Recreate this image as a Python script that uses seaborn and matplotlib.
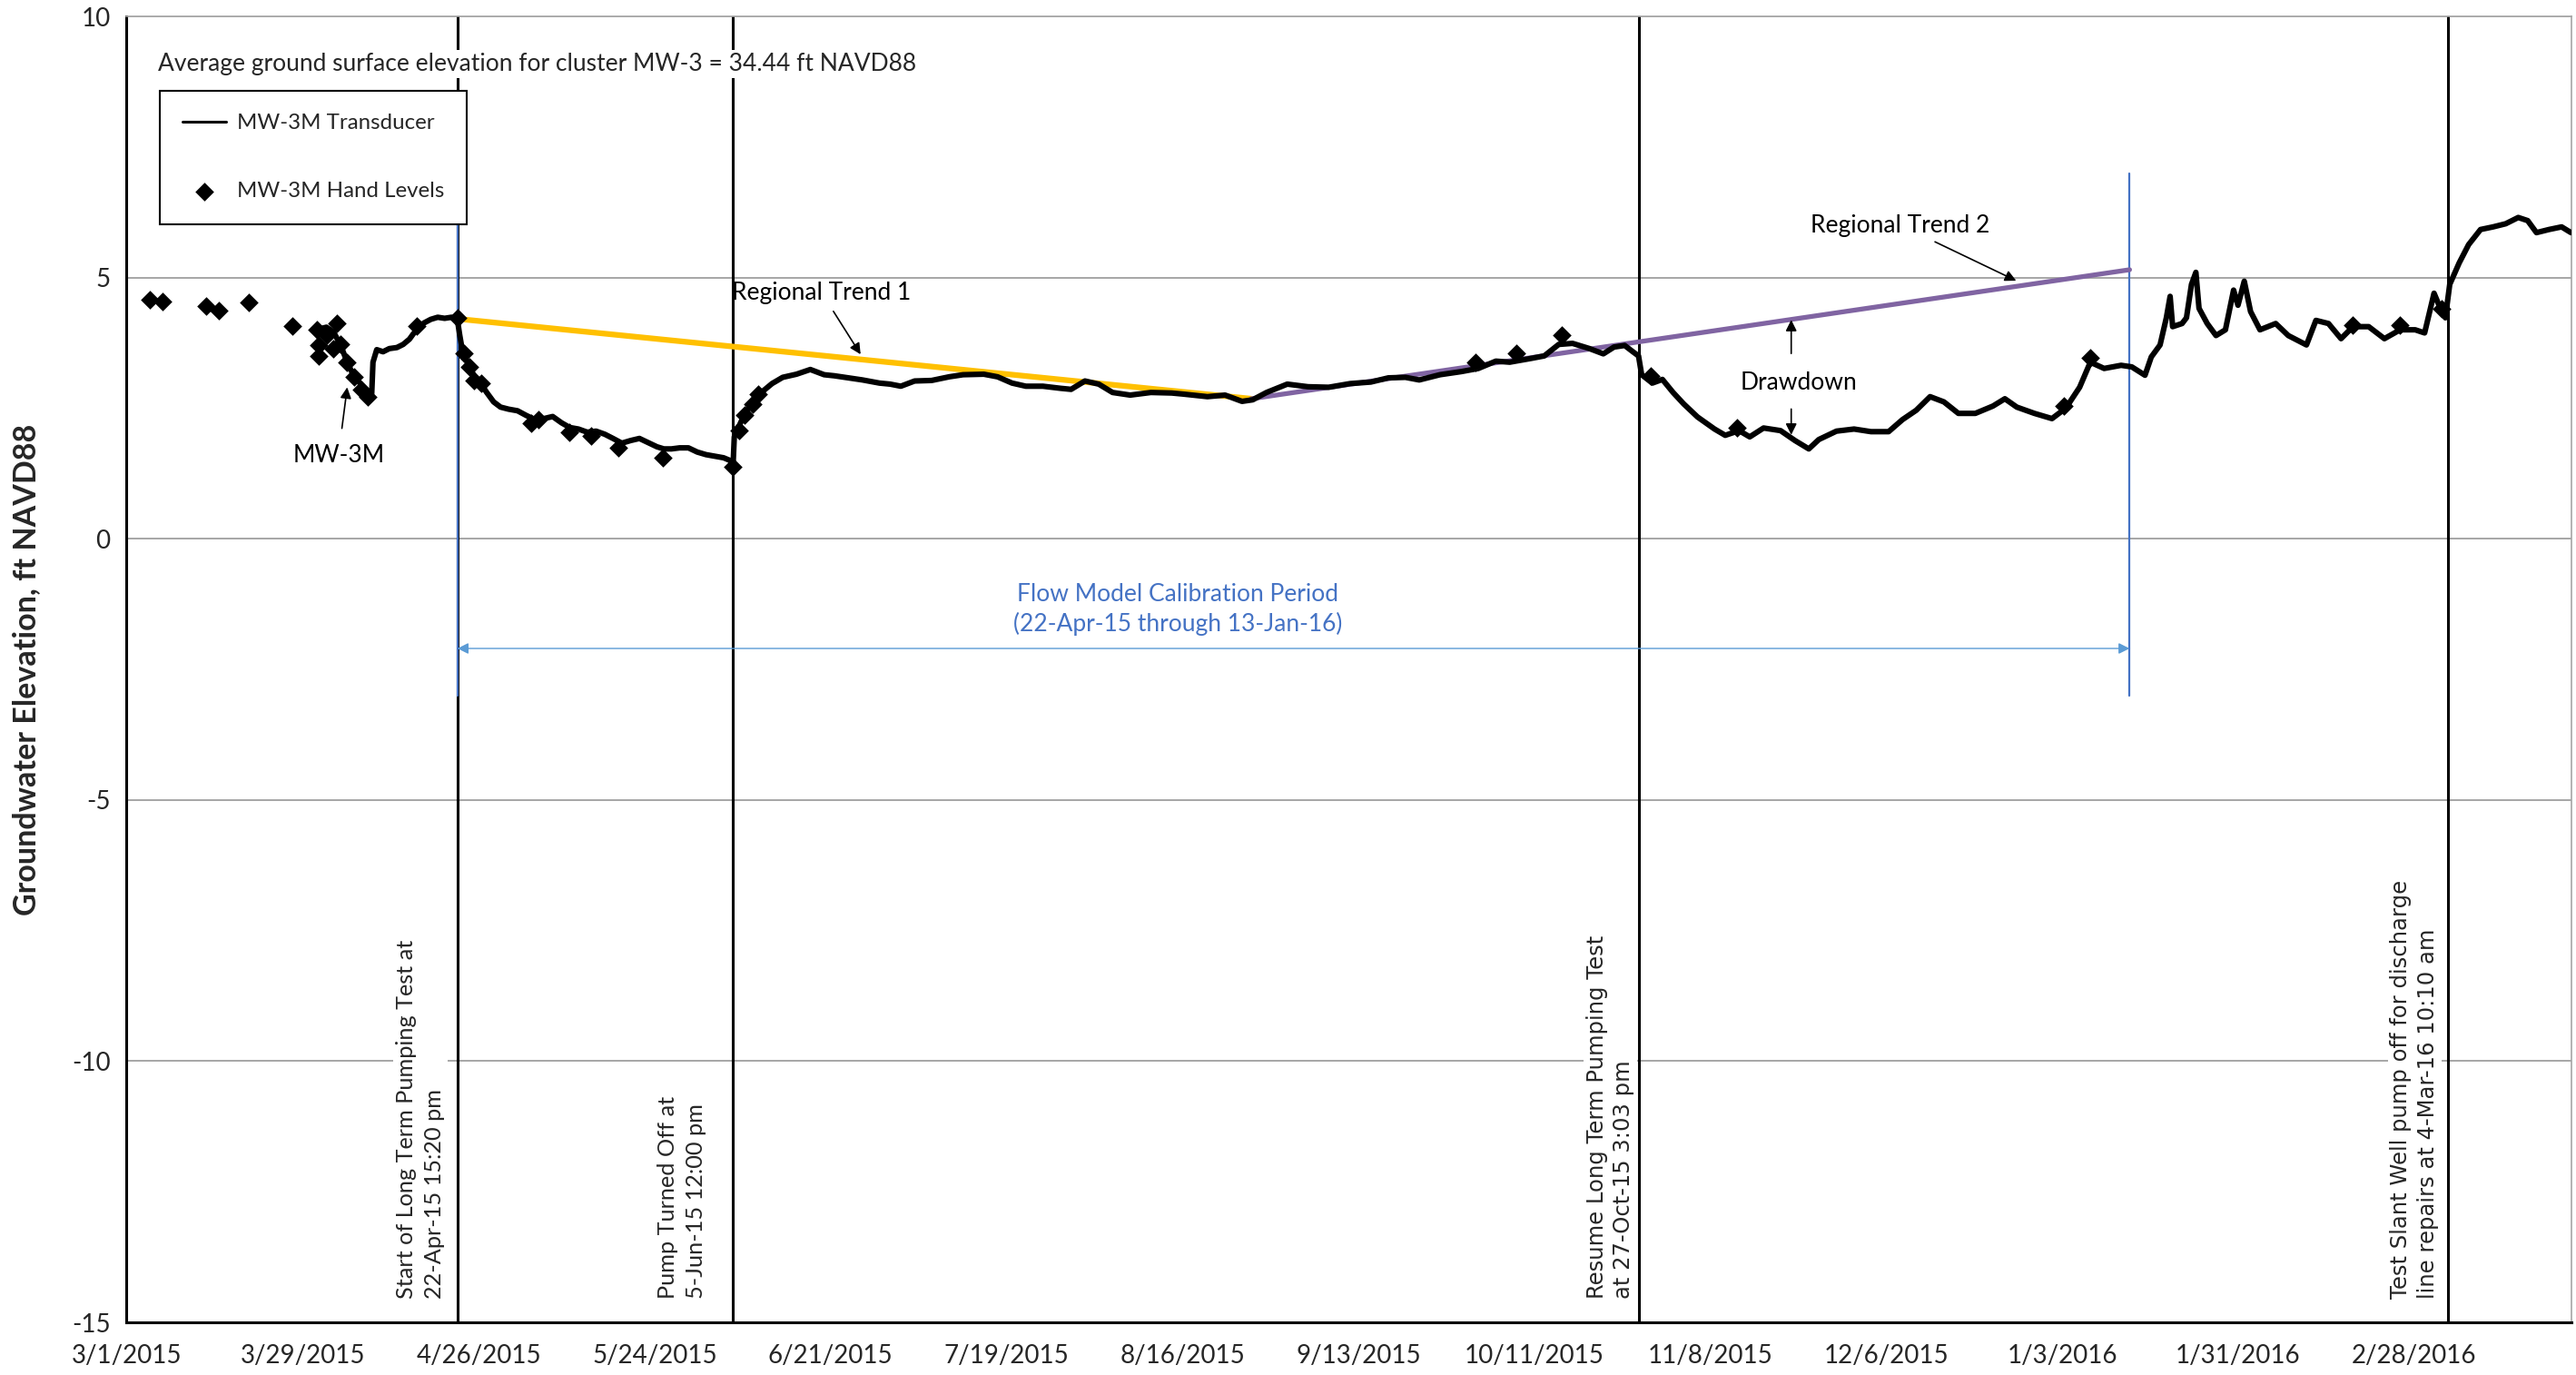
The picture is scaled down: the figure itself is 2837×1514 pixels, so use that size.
import pandas as pd
import numpy as np
import matplotlib
matplotlib.use('Agg')
import matplotlib.pyplot as plt
import matplotlib.dates as mdates
from matplotlib.ticker import FixedLocator, MultipleLocator, FuncFormatter
import seaborn as sns

# days after 3/1/2015 and groundwater elevation (ft NAVD88)
trans_days = [30.8, 31.8, 32.9, 34.0, 35.1, 36.0, 36.8, 37.6, 38.5, 39.0, 39.2, 39.8, 40.8, 41.8,
              43.0, 44.0, 45.0, 45.6, 46.5, 47.3, 48.4, 49.5, 50.6, 51.7, 52.6, 53.0, 53.4, 54.5,
              55.3, 56.2, 57.3, 58.4, 59.5, 60.8, 62.2, 63.6, 65.0, 66.4, 67.8, 69.2, 70.5, 71.9,
              73.3, 74.7, 76.1, 77.4, 78.8, 80.2, 81.6, 83.0, 84.4, 85.5, 86.7, 88.0, 89.4, 90.8,
              92.2, 93.6, 95.0, 96.0, 96.5, 96.7, 97.7, 98.5, 99.4, 100.2, 101.0, 102.7, 104.4,
              106.6, 108.8, 111.0, 112.6, 114.3, 117.1, 119.8, 121.5, 123.2, 125.4, 128.1, 130.9,
              133.1, 136.4, 138.6, 140.9, 143.1, 145.8, 148.6, 150.3, 152.5, 154.7, 156.9, 159.7,
              163.0, 166.3, 168.1, 172.0, 174.8, 177.5, 179.2, 181.4, 184.7, 188.0, 191.3, 194.7,
              198.0, 200.8, 203.5, 205.7, 209.0, 212.4, 215.1, 217.9, 220.1, 223.4, 225.6, 227.9,
              230.1, 232.8, 235.0, 236.7, 238.4, 239.7, 240.6, 241.1, 242.8, 244.4, 246.1, 247.8,
              250.0, 252.7, 254.4, 256.6, 258.3, 260.5, 263.2, 265.5, 267.7, 269.3, 272.1, 274.9,
              277.6, 280.4, 282.6, 284.8, 287.0, 289.2, 291.5, 294.2, 297.0, 298.9, 300.8, 303.6,
              306.4, 308.6, 310.8, 312.5, 314.7, 317.4, 319.1, 321.2, 322.2, 323.6, 324.6, 325.2,
              325.6, 327.1, 327.8, 328.6, 329.3, 329.8, 331.1, 332.5, 334.0, 335.3, 336.0, 337.0,
              338.0, 339.5, 342.0, 344.0, 346.9, 348.4, 350.4, 352.4, 354.3, 356.8, 359.3, 361.8,
              364.2, 365.7, 367.2, 368.2, 369.0, 369.7, 371.2, 372.7, 374.6, 376.6, 378.6, 380.6,
              382.1, 383.5, 385.5, 387.5, 389.0]
trans_vals = [4.02, 4.05, 3.96, 3.72, 3.38, 3.15, 3.03, 2.90, 2.80, 2.78, 3.38, 3.62, 3.58, 3.64,
              3.66, 3.72, 3.82, 3.92, 4.05, 4.13, 4.20, 4.24, 4.22, 4.24, 4.22, 3.90, 3.62, 3.30,
              3.12, 3.00, 2.80, 2.62, 2.52, 2.48, 2.45, 2.36, 2.28, 2.30, 2.34, 2.22, 2.13, 2.10,
              2.04, 2.06, 2.00, 1.92, 1.83, 1.88, 1.92, 1.84, 1.76, 1.72, 1.72, 1.74, 1.74, 1.66,
              1.61, 1.58, 1.55, 1.50, 1.40, 1.95, 2.22, 2.42, 2.57, 2.70, 2.80, 2.97, 3.09,
              3.15, 3.24, 3.14, 3.12, 3.09, 3.04, 2.98, 2.96, 2.92, 3.02, 3.03, 3.10,
              3.14, 3.15, 3.10, 2.98, 2.92, 2.92, 2.88, 2.86, 3.02, 2.96, 2.80, 2.75,
              2.80, 2.79, 2.77, 2.72, 2.75, 2.63, 2.66, 2.80, 2.96, 2.91, 2.90, 2.97,
              3.00, 3.08, 3.09, 3.04, 3.14, 3.20, 3.26, 3.40, 3.38, 3.45, 3.50, 3.72,
              3.74, 3.64, 3.54, 3.67, 3.70, 3.58, 3.50, 3.14, 2.98, 3.05, 2.80, 2.58,
              2.33, 2.10, 1.98, 2.07, 1.95, 2.12, 2.07, 1.88, 1.72, 1.90, 2.06, 2.10,
              2.05, 2.05, 2.28, 2.46, 2.72, 2.62, 2.40, 2.40, 2.54, 2.68, 2.52, 2.40,
              2.30, 2.50, 2.90, 3.38, 3.26, 3.32, 3.29, 3.13, 3.48, 3.71, 4.23, 4.64,
              4.06, 4.12, 4.23, 4.87, 5.10, 4.41, 4.12, 3.89, 4.00, 4.76, 4.47, 4.93,
              4.35, 4.00, 4.12, 3.89, 3.71, 4.18, 4.12, 3.83, 4.06, 4.06, 3.83, 4.00,
              4.00, 3.94, 4.70, 4.41, 4.23, 4.87, 5.28, 5.63, 5.92, 5.97, 6.03, 6.15,
              6.09, 5.86, 5.92, 5.97, 5.86]

hand_days = [3.7, 5.7, 12.7, 14.7, 19.5, 26.4, 30.3, 30.5, 30.6, 31.8, 32.9, 33.5, 34.0, 35.1,
             36.2, 37.3, 38.3, 46.2, 52.6, 53.7, 54.5, 55.3, 56.4, 64.4, 65.5, 70.5, 73.9, 78.3,
             85.3, 96.5, 97.4, 98.3, 99.7, 100.5, 214.6, 221.2, 228.4, 242.5, 256.3, 308.3,
             312.5, 354.3, 361.8, 368.4]
hand_vals = [4.57, 4.54, 4.45, 4.37, 4.52, 4.07, 4.00, 3.71, 3.50, 3.90, 3.64, 4.13, 3.72, 3.38,
             3.09, 2.86, 2.71, 4.07, 4.22, 3.55, 3.29, 3.03, 2.97, 2.22, 2.28, 2.04, 1.96, 1.75,
             1.55, 1.38, 2.07, 2.36, 2.57, 2.77, 3.38, 3.55, 3.90, 3.12, 2.13, 2.54,
             3.46, 4.09, 4.09, 4.41]

trend1_dates = ['2015-04-22 15:20', '2015-08-27 00:00']
trend1_vals = [4.21, 2.68]
trend2_dates = ['2015-08-27 00:00', '2016-01-13 18:00']
trend2_vals = [2.68, 5.15]

events = ['2015-04-22 15:20', '2015-06-05 12:00', '2015-10-27 15:03', '2016-03-04 10:10']
calib = ['2015-04-22 15:20', '2016-01-13 18:00']

base = pd.Timestamp('2015-03-01')
x_end = base + pd.Timedelta(days=389)


def dnum(d):
    return mdates.date2num(base + pd.Timedelta(days=d))


def tnum(s):
    return mdates.date2num(pd.Timestamp(s))


trans = pd.DataFrame({'date': base + pd.to_timedelta(trans_days, unit='D'), 'elev': trans_vals})
hand = pd.DataFrame({'date': base + pd.to_timedelta(hand_days, unit='D'), 'elev': hand_vals})

sns.set_style('white')
plt.rcParams['font.family'] = ['Lato', 'DejaVu Sans']
plt.rcParams['axes.unicode_minus'] = False

fig = plt.figure(figsize=(28.37, 15.14), dpi=100)
ax = fig.add_axes([0.04917, 0.0383, 0.9489, 0.9498])

sns.lineplot(data=trans, x='date', y='elev', color='black', lw=4.4, ax=ax,
             label='MW-3M Transducer', zorder=4)
sns.scatterplot(data=hand, x='date', y='elev', color='black', marker='D', s=110,
                linewidth=0, ax=ax, label='MW-3M Hand Levels', zorder=4)

# regional trend lines
ax.plot(pd.to_datetime(trend1_dates), trend1_vals, color='#FFC000', lw=4.5, zorder=3)
ax.plot(pd.to_datetime(trend2_dates), trend2_vals, color='#8064A2', lw=3.8, zorder=3)

# event lines
for e in events:
    ax.axvline(pd.Timestamp(e), color='black', lw=2.2, zorder=2)

# calibration period
for c in calib:
    ax.plot([pd.Timestamp(c)] * 2, [-3.0, 7.0], color='#4472C4', lw=1.6, zorder=2)
ax.annotate('', xy=(tnum(calib[0]), -2.1), xytext=(tnum(calib[1]), -2.1),
            arrowprops=dict(arrowstyle='<|-|>', color='#5B9BD5', lw=1.0, mutation_scale=18,
                            shrinkA=0, shrinkB=0))
ax.text(dnum(167.3), -1.35, 'Flow Model Calibration Period\n(22-Apr-15 through 13-Jan-16)',
        ha='center', va='center', color='#4472C4', fontsize=19, linespacing=1.35)

# labels and arrows
txt = dict(fontsize=19, color='black')
arw = dict(arrowstyle='-|>', color='black', lw=1.2, mutation_scale=18, shrinkA=4, shrinkB=0)
ax.annotate('MW-3M', xy=(dnum(35.1), 2.9), xytext=(dnum(33.7), 1.6), ha='center', va='center',
            arrowprops=dict(arw, shrinkA=10), **txt)
ax.annotate('Regional Trend 1', xy=(dnum(116.8), 3.53), xytext=(dnum(110.6), 4.71),
            ha='center', va='center', arrowprops=arw, **txt)
ax.annotate('Regional Trend 2', xy=(dnum(300.7), 4.94), xytext=(dnum(282.3), 6.0),
            ha='center', va='center', arrowprops=arw, **txt)
ax.text(dnum(266.1), 2.99, 'Drawdown', ha='center', va='center', **txt)
ax.annotate('', xy=(dnum(264.9), 4.19), xytext=(dnum(264.9), 3.45), arrowprops=arw)
ax.annotate('', xy=(dnum(264.9), 1.99), xytext=(dnum(264.9), 2.58), arrowprops=arw)

box = dict(facecolor='white', edgecolor='none', pad=2)
ax.text(dnum(5.0), 9.09, 'Average ground surface elevation for cluster MW-3 = 34.44 ft NAVD88',
        ha='left', va='center', fontsize=19, bbox=box, zorder=5)

ax.text(dnum(50.7), -14.55, 'Start of Long Term Pumping Test at\n22-Apr-15 15:20 pm',
        rotation=90, ha='right', va='bottom', multialignment='left', fontsize=18.2,
        bbox=box, zorder=5, linespacing=1.45)
ax.text(dnum(92.3), -14.55, 'Pump Turned Off at\n5-Jun-15 12:00 pm',
        rotation=90, ha='right', va='bottom', multialignment='left', fontsize=18.2,
        bbox=box, zorder=5, linespacing=1.45)
ax.text(dnum(240.0), -14.55, 'Resume Long Term Pumping Test\nat 27-Oct-15 3:03 pm',
        rotation=90, ha='right', va='bottom', multialignment='left', fontsize=17.5,
        family='DejaVu Sans', bbox=box, zorder=5, linespacing=1.3)
ax.text(dnum(368.0), -14.55, 'Test Slant Well pump off for discharge\nline repairs at 4-Mar-16 10:10 am',
        rotation=90, ha='right', va='bottom', multialignment='left', fontsize=17.5,
        family='DejaVu Sans', bbox=box, zorder=5, linespacing=1.3)

# axes
ax.set_xlim(base, x_end)
ax.set_ylim(-15, 10)
major = pd.date_range(base, x_end, freq='28D')
minor = pd.date_range(base, x_end, freq='2D')
ax.xaxis.set_major_locator(FixedLocator(mdates.date2num(major)))
ax.xaxis.set_minor_locator(FixedLocator(mdates.date2num(minor)))
ax.xaxis.set_major_formatter(FuncFormatter(
    lambda v, p: (lambda t: f'{t.month}/{t.day}/{t.year}')(mdates.num2date(v))))
ax.yaxis.set_major_locator(MultipleLocator(5))
ax.yaxis.set_minor_locator(MultipleLocator(1))
ax.yaxis.grid(True, which='major', color='#A6A6A6', lw=1.4)
ax.xaxis.grid(False)
ax.set_axisbelow(True)

ax.tick_params(axis='both', which='major', direction='inout', length=14, width=1.4,
               labelsize=20, color='black', pad=6)
ax.tick_params(axis='both', which='minor', direction='out', length=6, width=1.2, color='black')
ax.tick_params(axis='x', which='major', pad=10)

for s in ['left', 'bottom']:
    ax.spines[s].set_color('black')
    ax.spines[s].set_linewidth(2.2)
for s in ['top', 'right']:
    ax.spines[s].set_color('#A6A6A6')
    ax.spines[s].set_linewidth(1.2)

ax.set_xlabel('')
ax.set_ylabel('Groundwater Elevation, ft NAVD88', fontsize=24.5, fontweight='bold')
ax.yaxis.set_label_coords(-0.035, 0.5)

leg = ax.legend(loc='upper left', bbox_to_anchor=(0.0134, 0.943), fontsize=17.3, frameon=True,
                fancybox=False, edgecolor='black', framealpha=1, borderpad=1.05,
                labelspacing=2.25, handlelength=2.0, handletextpad=0.5, borderaxespad=0)
leg.get_frame().set_linewidth(1.5)
leg.get_lines()[0].set_linewidth(2.2)
leg.set_zorder(6)

fig.savefig('out.png', dpi=100)
